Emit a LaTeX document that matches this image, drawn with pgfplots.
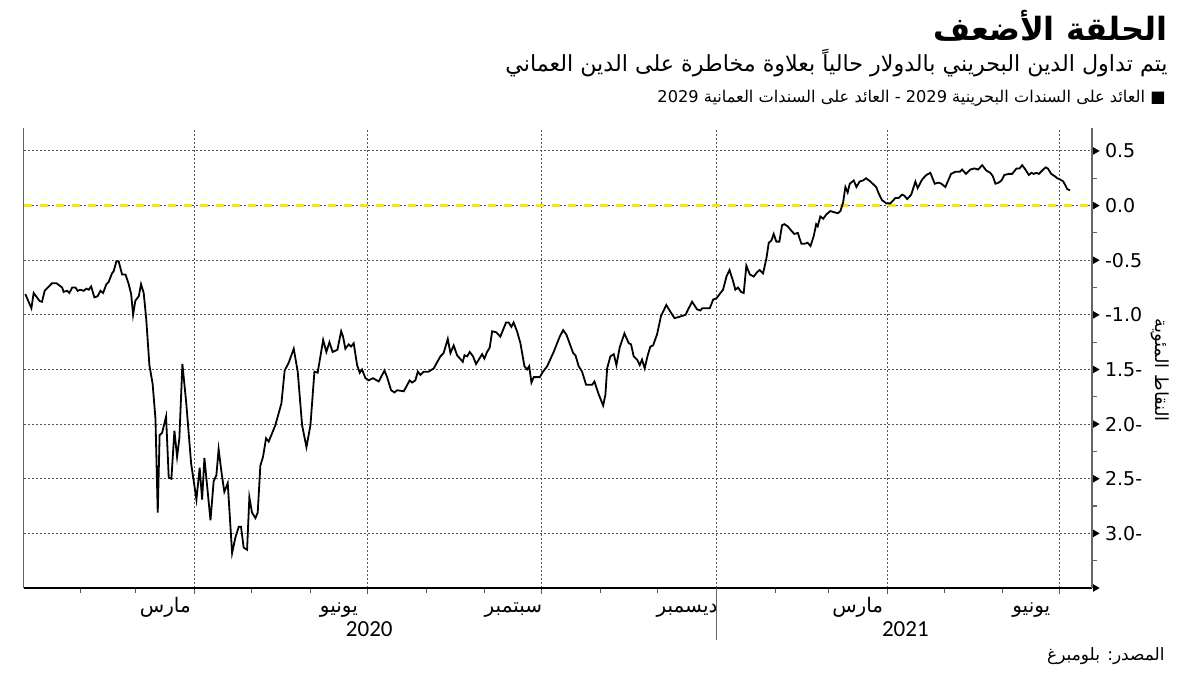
\documentclass[border=0pt]{standalone}
\usepackage{pgfplots}
\pgfplotsset{compat=1.18}
\usepackage{fontspec}
\setmainfont{DejaVu Sans}
\newfontfamily\arabicfont[Script=Arabic]{DejaVu Sans}
\newfontfamily\latinfont{Carlito}
\TeXXeTstate=1
\definecolor{zeroyellow}{HTML}{F5E31C}
\definecolor{gridgray}{HTML}{555555}
\definecolor{axisgray}{HTML}{666666}

\pgfplotstableread{
day val
1.7 -0.81
4.9 -0.94
6.1 -0.80
9.3 -0.875
10.5 -0.88
11.9 -0.78
15.8 -0.71
18.1 -0.71
21.1 -0.75
21.9 -0.79
23.7 -0.78
24.9 -0.80
26.4 -0.75
28.1 -0.75
29.3 -0.78
30.7 -0.77
32.5 -0.78
33.9 -0.76
35.1 -0.77
36.4 -0.74
38.1 -0.84
39.8 -0.83
41.3 -0.78
42.7 -0.80
44.4 -0.72
45.6 -0.70
47.4 -0.62
48.3 -0.60
49.7 -0.51
50.9 -0.51
52.7 -0.63
54.5 -0.63
56.2 -0.72
57.5 -0.81
58.5 -1.00
59.7 -0.87
61.5 -0.83
62.7 -0.72
64.1 -0.80
65.4 -1.03
67.1 -1.46
68.8 -1.63
70.3 -1.95
71.5 -2.81
72.5 -2.10
73.8 -2.08
75.9 -1.93
77.3 -2.49
78.7 -2.50
80.3 -2.06
81.7 -2.30
82.9 -2.13
84.5 -1.45
86.5 -1.80
89.1 -2.36
91.9 -2.69
93.6 -2.40
94.9 -2.69
96.1 -2.31
99.3 -2.88
101.0 -2.52
102.4 -2.47
103.6 -2.23
105.1 -2.44
106.6 -2.62
108.4 -2.54
110.7 -3.18
112.4 -3.04
114.2 -2.94
115.4 -2.94
116.8 -3.13
118.6 -3.15
119.8 -2.67
121.2 -2.81
123.0 -2.86
124.2 -2.81
125.6 -2.38
127.0 -2.30
128.6 -2.13
130.0 -2.16
133.5 -2.01
136.7 -1.81
138.4 -1.51
140.5 -1.44
143.2 -1.31
145.3 -1.52
147.6 -2.01
149.9 -2.21
152.0 -2.01
154.1 -1.52
155.8 -1.53
158.7 -1.23
160.4 -1.34
162.0 -1.25
163.7 -1.34
166.2 -1.32
168.2 -1.15
169.2 -1.20
170.4 -1.31
172.2 -1.27
173.4 -1.29
174.8 -1.26
176.6 -1.46
178.0 -1.53
179.2 -1.50
181.0 -1.58
182.7 -1.60
185.0 -1.58
188.0 -1.61
191.0 -1.51
192.4 -1.57
194.5 -1.69
196.3 -1.71
197.7 -1.69
201.2 -1.70
204.3 -1.60
205.6 -1.62
207.3 -1.60
208.6 -1.52
210.0 -1.55
211.7 -1.52
214.3 -1.52
217.0 -1.49
220.5 -1.38
222.2 -1.35
224.4 -1.22
225.8 -1.35
227.5 -1.28
229.3 -1.37
232.3 -1.43
233.2 -1.37
234.6 -1.38
236.0 -1.34
237.7 -1.38
239.3 -1.45
242.5 -1.36
243.7 -1.40
245.1 -1.34
246.5 -1.30
247.8 -1.15
250.0 -1.16
252.1 -1.20
255.1 -1.07
256.5 -1.07
257.9 -1.11
259.1 -1.07
260.9 -1.15
262.7 -1.26
264.8 -1.47
266.2 -1.50
267.3 -1.47
268.5 -1.62
269.7 -1.57
272.9 -1.57
274.6 -1.52
276.8 -1.47
280.2 -1.34
283.4 -1.20
285.2 -1.14
286.9 -1.18
290.5 -1.35
291.7 -1.37
293.4 -1.47
295.2 -1.52
297.3 -1.64
300.5 -1.64
301.7 -1.61
304.0 -1.73
306.3 -1.83
307.5 -1.73
308.4 -1.49
310.1 -1.38
311.9 -1.36
313.3 -1.46
315.0 -1.30
317.5 -1.17
319.8 -1.26
321.0 -1.27
322.4 -1.38
324.2 -1.41
325.6 -1.46
326.8 -1.41
328.2 -1.49
329.8 -1.37
331.2 -1.29
332.6 -1.28
334.7 -1.18
336.8 -1.01
339.6 -0.91
341.7 -0.97
343.9 -1.03
346.1 -1.02
349.7 -1.00
351.4 -0.94
353.2 -0.88
355.8 -0.95
357.6 -0.96
358.5 -0.94
362.5 -0.94
364.3 -0.86
366.0 -0.85
367.7 -0.81
369.5 -0.77
371.3 -0.65
372.9 -0.59
374.6 -0.68
376.0 -0.77
377.4 -0.75
379.0 -0.79
380.4 -0.80
381.8 -0.55
383.6 -0.63
385.7 -0.65
387.4 -0.61
388.8 -0.59
390.6 -0.62
392.4 -0.48
393.6 -0.34
395.0 -0.32
396.2 -0.26
397.6 -0.33
399.2 -0.33
400.6 -0.18
401.8 -0.17
403.6 -0.19
405.5 -0.23
407.1 -0.26
408.9 -0.25
410.8 -0.35
412.4 -0.35
414.1 -0.34
415.6 -0.37
417.3 -0.28
418.6 -0.17
419.4 -0.19
420.8 -0.10
422.3 -0.12
424.0 -0.08
426.1 -0.05
427.9 -0.06
430.0 -0.07
431.4 -0.05
432.8 0.03
434.0 0.17
435.2 0.12
436.3 0.20
438.4 0.23
439.8 0.17
441.5 0.22
443.3 0.23
444.9 0.25
447.2 0.22
450.2 0.17
451.6 0.11
453.3 0.05
455.6 0.02
457.7 0.02
460.4 0.07
462.1 0.07
463.9 0.10
465.1 0.09
466.6 0.06
468.7 0.10
470.9 0.22
472.1 0.16
474.5 0.24
476.7 0.28
478.8 0.30
481.1 0.20
483.2 0.21
484.6 0.20
486.7 0.17
489.7 0.29
492.0 0.31
494.3 0.31
495.5 0.33
497.6 0.29
499.9 0.33
502.0 0.34
504.0 0.33
506.1 0.37
508.3 0.32
510.4 0.30
511.7 0.27
513.1 0.20
514.8 0.21
516.3 0.23
517.8 0.28
520.1 0.29
521.9 0.29
524.2 0.34
525.8 0.34
527.2 0.37
528.9 0.33
530.7 0.28
532.1 0.30
533.3 0.29
534.6 0.30
536.0 0.29
537.7 0.32
539.5 0.35
540.7 0.34
542.5 0.29
544.3 0.27
545.7 0.25
547.1 0.24
548.9 0.22
550.1 0.18
551.0 0.15
552.4 0.14
}\spread

\begin{document}
\begin{tikzpicture}[x=1pt,y=1pt]
\begin{axis}[
  at={(0,0)}, anchor=south west,
  scale only axis, width=534pt, height=230pt,
  xmin=1, xmax=564, ymin=-3.5, ymax=0.71,
  clip=false,
  axis x line=bottom, axis y line=right,
  x axis line style={black, line width=0.6pt, -},
  y axis line style={axisgray, line width=1.3pt, -},
  tick align=outside,
  major tick length=3pt,
  minor tick length=2.5pt,
  xtick={91,182,274,366,456,547},
  xticklabels={},
  minor xtick={31,60,121,152,213,244,305,335,397,425,486,517},
  x tick style={gridgray, line width=0.5pt},
  xmajorgrids, ymajorgrids,
  major grid style={gridgray, line width=0.5pt, dash pattern=on 1pt off 1pt},
  extra x ticks={75.5,167,259,350.5,440.5,532},
  extra x tick labels={\beginR مارس\endR,\beginR يونيو\endR,\beginR سبتمبر\endR,\beginR ديسمبر\endR,\beginR مارس\endR,\beginR يونيو\endR},
  extra x tick style={grid=none, tick style={draw=none},
     tick label style={font=\arabicfont\fontsize{10}{12}\selectfont, text height=8pt, text depth=2.5pt, yshift=2.5pt}},
  ytick={-3.5,-3,-2.5,-2,-1.5,-1,-0.5,0,0.5},
  yticklabels={,3.0-,2.5-,2.0-,1.5-,-1.0,-0.5,0.0,0.5},
  minor y tick num=1,
  y tick style={axisgray, line width=0.6pt},
  major y tick style={draw=none},
  yticklabel style={font=\fontsize{9.5}{11}\selectfont, anchor=west, xshift=0pt},
]
\addplot[zeroyellow, line width=1.1pt, dash pattern=on 4pt off 4pt] coordinates {(1,0) (564,0)};
\addplot[black, line width=0.9pt] table[x=day, y=val] {\spread};
\addplot[only marks, mark=triangle*, mark size=1.8pt, mark options={xshift=1.6pt, rotate=-90, fill=black, draw=none}]
  coordinates {(564,0.5) (564,0) (564,-0.5) (564,-1) (564,-1.5) (564,-2) (564,-2.5) (564,-3) (564,-3.5)};
\draw[axisgray, line width=0.5pt] (axis cs:1,-3.5) -- (axis cs:1,0.71);
\draw[axisgray, line width=0.5pt] (axis cs:366,-3.5) -- ([yshift=-26pt]axis cs:366,-3.5);
\node[font=\latinfont\fontsize{11.5}{13}\selectfont] at ([yshift=-20.5pt]axis cs:183,-3.5) {2020};
\node[font=\latinfont\fontsize{11.5}{13}\selectfont] at ([yshift=-20.5pt]axis cs:465.6,-3.5) {2021};
\coordinate (BL) at (rel axis cs:0,0);
\end{axis}
\pgfresetboundingbox
\begin{scope}[shift={(BL)}, shift={(-12,-43.5)}]
\path[use as bounding box] (0,0) rectangle (600,337.5);
\node[anchor=base east, inner sep=0pt, font=\arabicfont\bfseries\fontsize{16}{19}\selectfont] at (584,317) {\beginR الحلقة الأضعف\endR};
\node[anchor=base east, inner sep=0pt, font=\arabicfont\fontsize{11.1}{13}\selectfont] at (584,301.5) {\beginR يتم تداول الدين البحريني بالدولار حالياً بعلاوة مخاطرة على الدين العماني\endR};
\node[anchor=base east, inner sep=0pt, font=\arabicfont\fontsize{8.1}{10}\selectfont] at (583,286) {\beginR ■ العائد على السندات البحرينية \beginL 2029\endL{} - العائد على السندات العمانية \beginL 2029\endL\endR};
\node[rotate=-90, font=\arabicfont\fontsize{9}{11}\selectfont] at (580,152.5) {\beginR النقاط المئوية\endR};
\node[anchor=base east, inner sep=0pt, font=\arabicfont\fontsize{8.5}{10}\selectfont] at (582.5,7.5) {\beginR المصدر: بلومبرغ\endR};
\end{scope}
\end{tikzpicture}
\end{document}
